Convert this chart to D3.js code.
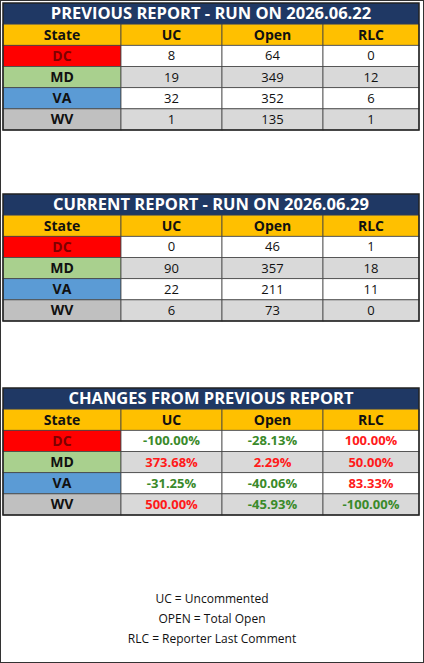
<!DOCTYPE html>
<html><head><meta charset="utf-8">
<script src="https://cdn.jsdelivr.net/npm/d3@7"></script>
<style>body{margin:0;background:#fff}svg{display:block}text{font-family:"Open Sans",sans-serif}</style>
</head><body><svg id="c" width="424" height="663"></svg>
<script>
const states=["DC","MD","VA","WV"];
const columns=["State","UC","Open","RLC"];
const prevUC=[8,19,32,1], prevOpen=[64,349,352,135], prevRLC=[0,12,6,1];
const curUC=[0,90,22,6], curOpen=[46,357,211,73], curRLC=[1,18,11,0];
const chgUC=["-100.00%","373.68%","-31.25%","500.00%"];
const chgOpen=["-28.13%","2.29%","-40.06%","-45.93%"];
const chgRLC=["100.00%","50.00%","83.33%","-100.00%"];
const titles=["PREVIOUS REPORT - RUN ON 2026.06.22","CURRENT REPORT - RUN ON 2026.06.29","CHANGES FROM PREVIOUS REPORT"];
const footer=["UC = Uncommented","OPEN = Total Open","RLC = Reporter Last Comment"];
const stateColor={DC:"#ff0000",MD:"#a9d08e",VA:"#5b9bd5",WV:"#c0c0c0"};

const svg=d3.select("#c");
svg.append("rect").attr("x",0.5).attr("y",0.5).attr("width",423).attr("height",662).attr("fill","#fff").attr("stroke","#333");
const colEdges=d3.scaleOrdinal().domain(columns).range([3,121,222,323]);
const colW=d3.scaleOrdinal().domain(columns).range([118,101,101,96]);
const tables=[
 {top:3,data:[prevUC,prevOpen,prevRLC],pct:false},
 {top:194,data:[curUC,curOpen,curRLC],pct:false},
 {top:388,data:[chgUC,chgOpen,chgRLC],pct:true}];
tables.forEach((t,ti)=>{
 const g=svg.append("g");
 const y=d3.scaleBand().domain(["title","head",...states]).range([t.top,t.top+22+21+4*21]).paddingInner(0);
 g.append("rect").attr("x",3).attr("y",y("title")).attr("width",416).attr("height",y.bandwidth()).attr("fill","#1f3864");
 g.append("text").attr("x",211).attr("y",y("title")+y.bandwidth()/2+1).attr("text-anchor","middle").attr("dominant-baseline","middle")
  .attr("fill","#fff").attr("font-weight","bold").attr("font-size",16.5).text(titles[ti]);
 columns.forEach(c=>{
  g.append("rect").attr("x",colEdges(c)).attr("y",y("head")).attr("width",colW(c)).attr("height",y.bandwidth()).attr("fill","#ffc000").attr("stroke","#444").attr("stroke-width",0.8);
  g.append("text").attr("x",colEdges(c)+colW(c)/2).attr("y",y("head")+y.bandwidth()/2+1).attr("text-anchor","middle").attr("dominant-baseline","middle").attr("font-weight","bold").attr("font-size",14).attr("fill","#111").text(c);
 });
 states.forEach((s,i)=>{
  const yy=y(s), bg=i%2? "#d9d9d9":"#fff";
  g.append("rect").attr("x",colEdges("State")).attr("y",yy).attr("width",colW("State")).attr("height",y.bandwidth()).attr("fill",stateColor[s]).attr("stroke","#444").attr("stroke-width",0.8);
  g.append("text").attr("x",colEdges("State")+colW("State")/2).attr("y",yy+y.bandwidth()/2+1).attr("text-anchor","middle").attr("dominant-baseline","middle").attr("font-weight","bold").attr("font-size",14).attr("fill",s==="DC"?"#7f0000":"#111").text(s);
  ["UC","Open","RLC"].forEach((c,k)=>{
   const v=t.data[k][i];
   g.append("rect").attr("x",colEdges(c)).attr("y",yy).attr("width",colW(c)).attr("height",y.bandwidth()).attr("fill",bg).attr("stroke","#444").attr("stroke-width",0.8);
   g.append("text").attr("x",colEdges(c)+colW(c)/2).attr("y",yy+y.bandwidth()/2+1).attr("text-anchor","middle").attr("dominant-baseline","middle").attr("font-size",13)
    .attr("font-weight",t.pct?"bold":"normal")
    .attr("fill",t.pct?(String(v).startsWith("-")?"#3a8a2a":"#ff1a1a"):"#111").text(v);
  });
 });
 g.append("rect").attr("x",3).attr("y",y("title")).attr("width",416).attr("height",y.range()[1]-y("title")).attr("fill","none").attr("stroke","#222").attr("stroke-width",1.5);
});
const fy=d3.scalePoint().domain(footer).range([600,640]);
svg.selectAll(".f").data(footer).join("text").attr("x",212).attr("y",d=>fy(d)).attr("text-anchor","middle").attr("dominant-baseline","middle").attr("font-size",12).attr("fill","#111").text(d=>d);
</script></body></html>
